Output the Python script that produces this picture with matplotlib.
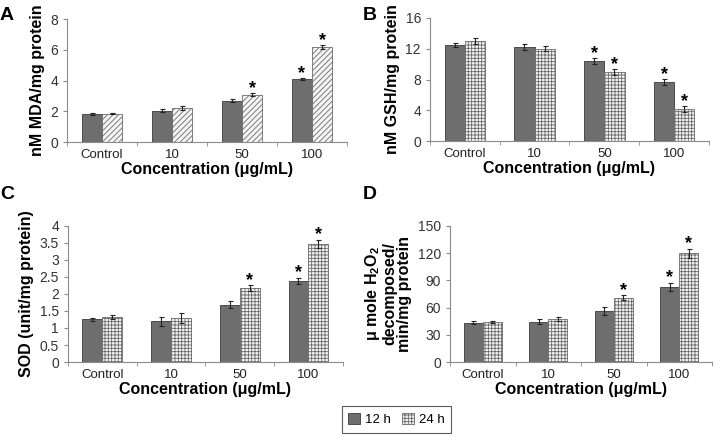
import matplotlib
matplotlib.use("Agg")
import matplotlib.pyplot as plt
import numpy as np
from matplotlib.patches import Patch

plt.rcParams['font.family'] = ['Liberation Sans', 'DejaVu Sans']
plt.rcParams['mathtext.fontset'] = 'custom'
plt.rcParams['mathtext.rm'] = 'Liberation Sans'
plt.rcParams['mathtext.bf'] = 'Liberation Sans:bold'
plt.rcParams['hatch.linewidth'] = 0.6

categories = ["Control", "10", "50", "100"]
series = ["12 h", "24 h"]

mda_12 = [1.80, 2.05, 2.70, 4.10]
mda_24 = [1.85, 2.20, 3.08, 6.20]
mda_12_err = [0.07, 0.10, 0.12, 0.06]
mda_24_err = [0.05, 0.12, 0.10, 0.12]
mda_sig12 = [False, False, False, True]
mda_sig24 = [False, False, True, True]

gsh_12 = [12.5, 12.2, 10.4, 7.7]
gsh_24 = [13.0, 12.0, 9.0, 4.2]
gsh_12_err = [0.3, 0.4, 0.35, 0.35]
gsh_24_err = [0.35, 0.3, 0.4, 0.4]
gsh_sig12 = [False, False, True, True]
gsh_sig24 = [False, False, True, True]

sod_12 = [1.25, 1.20, 1.68, 2.38]
sod_24 = [1.32, 1.30, 2.17, 3.47]
sod_12_err = [0.05, 0.13, 0.10, 0.10]
sod_24_err = [0.06, 0.14, 0.08, 0.13]
sod_sig12 = [False, False, False, True]
sod_sig24 = [False, False, True, True]

cat_12 = [43.5, 44.5, 56.5, 83.0]
cat_24 = [44.0, 47.5, 71.0, 120.0]
cat_12_err = [1.5, 2.5, 4.5, 4.5]
cat_24_err = [1.2, 2.0, 3.0, 5.0]
cat_sig12 = [False, False, False, True]
cat_sig24 = [False, False, True, True]

panels = [
    dict(letter="A", pos=[0.0924, 0.675, 0.386, 0.2815], v12=mda_12, v24=mda_24, e12=mda_12_err, e24=mda_24_err,
         s12=mda_sig12, s24=mda_sig24, ylim=8, yticks=[0, 2, 4, 6, 8], ylabel="nM MDA/mg protein",
         hatch="//////", fmt=None, letterpos=(0.0, 0.985)),
    dict(letter="B", pos=[0.593, 0.677, 0.385, 0.282], v12=gsh_12, v24=gsh_24, e12=gsh_12_err, e24=gsh_24_err,
         s12=gsh_sig12, s24=gsh_sig24, ylim=16, yticks=[0, 4, 8, 12, 16], ylabel="nM GSH/mg protein",
         hatch="+++++", fmt=None, letterpos=(0.5, 0.985)),
    dict(letter="C", pos=[0.0938, 0.1716, 0.379, 0.3114], v12=sod_12, v24=sod_24, e12=sod_12_err, e24=sod_24_err,
         s12=sod_sig12, s24=sod_sig24, ylim=4, yticks=[0, 0.5, 1, 1.5, 2, 2.5, 3, 3.5, 4],
         ylabel="SOD (unit/mg protein)", hatch="+++++", fmt="g", letterpos=(0.0, 0.575)),
    dict(letter="D", pos=[0.621, 0.1716, 0.361, 0.3114], v12=cat_12, v24=cat_24, e12=cat_12_err, e24=cat_24_err,
         s12=cat_sig12, s24=cat_sig24, ylim=150, yticks=[0, 30, 60, 90, 120, 150],
         ylabel="μ mole H$_\\mathbf{2}$O$_\\mathbf{2}$\ndecomposed/\nmin/mg protein", hatch="+++++", fmt=None,
         letterpos=(0.5, 0.575)),
]

fig = plt.figure(figsize=(7.25, 4.37), dpi=100)
dark = "#6e6e6e"
hatch_c = "#6a6a6a"
spine_c = "#8a8a8a"
w = 0.29
x = np.arange(len(categories))

for p in panels:
    ax = fig.add_axes(p["pos"])
    ax.bar(x - w / 2, p["v12"], w, color=dark, edgecolor="#3a3a3a", linewidth=0.6)
    ax.bar(x + w / 2, p["v24"], w, color="#f4f4f4", edgecolor=hatch_c, hatch=p["hatch"], linewidth=0.6)
    ax.errorbar(x - w / 2, p["v12"], yerr=p["e12"], fmt="none", ecolor="#222222", elinewidth=0.8, capsize=1.8, capthick=0.8)
    ax.errorbar(x + w / 2, p["v24"], yerr=p["e24"], fmt="none", ecolor="#222222", elinewidth=0.8, capsize=1.8, capthick=0.8)
    off = p["ylim"] * 0.035
    for i in range(len(categories)):
        if p["s12"][i]:
            ax.text(x[i] - w / 2, p["v12"][i] + p["e12"][i] + off, "*", ha="center", va="center", fontsize=13, fontweight="bold")
        if p["s24"][i]:
            ax.text(x[i] + w / 2, p["v24"][i] + p["e24"][i] + off, "*", ha="center", va="center", fontsize=13, fontweight="bold")
    ax.set_xlim(-0.5, len(categories) - 0.5)
    ax.set_ylim(0, p["ylim"])
    ax.set_yticks(p["yticks"])
    if p["fmt"] == "g":
        ax.set_yticklabels([f"{t:g}" for t in p["yticks"]])
    ax.set_xticks(x)
    ax.set_xticklabels(categories)
    ax.set_xticks(np.arange(-0.5, len(categories)), minor=True)
    ax.tick_params(axis="x", which="major", length=0, labelsize=9.5, pad=5)
    ax.tick_params(axis="x", which="minor", length=3, color=spine_c)
    ax.tick_params(axis="y", length=3, color=spine_c, labelsize=10, labelcolor="#333333")
    ax.tick_params(axis="x", labelcolor="#222222")
    for s in ["top", "right"]:
        ax.spines[s].set_visible(False)
    for s in ["left", "bottom"]:
        ax.spines[s].set_color(spine_c)
        ax.spines[s].set_linewidth(0.8)
    ax.set_xlabel("Concentration (μg/mL)", fontsize=11.5, fontweight="bold", labelpad=1)
    ax.set_ylabel(p["ylabel"], fontsize=11.5, fontweight="bold", labelpad=4, linespacing=1.0)
    fig.text(p["letterpos"][0], p["letterpos"][1], p["letter"], fontsize=14, fontweight="bold", ha="left", va="top")

handles = [Patch(facecolor=dark, edgecolor="#3a3a3a", linewidth=0.6, label=series[0]),
           Patch(facecolor="#f4f4f4", edgecolor=hatch_c, hatch="+++++", linewidth=0.6, label=series[1])]
leg = fig.legend(handles=handles, loc="lower center", bbox_to_anchor=(0.547, -0.005), ncol=2, frameon=True,
                 fontsize=9.5, handlelength=0.9, handleheight=0.9, handletextpad=0.4, columnspacing=0.8,
                 fancybox=False, borderpad=0.5)
leg.get_frame().set_edgecolor("#333333")
leg.get_frame().set_linewidth(0.8)

fig.savefig("out.png", dpi=100)
